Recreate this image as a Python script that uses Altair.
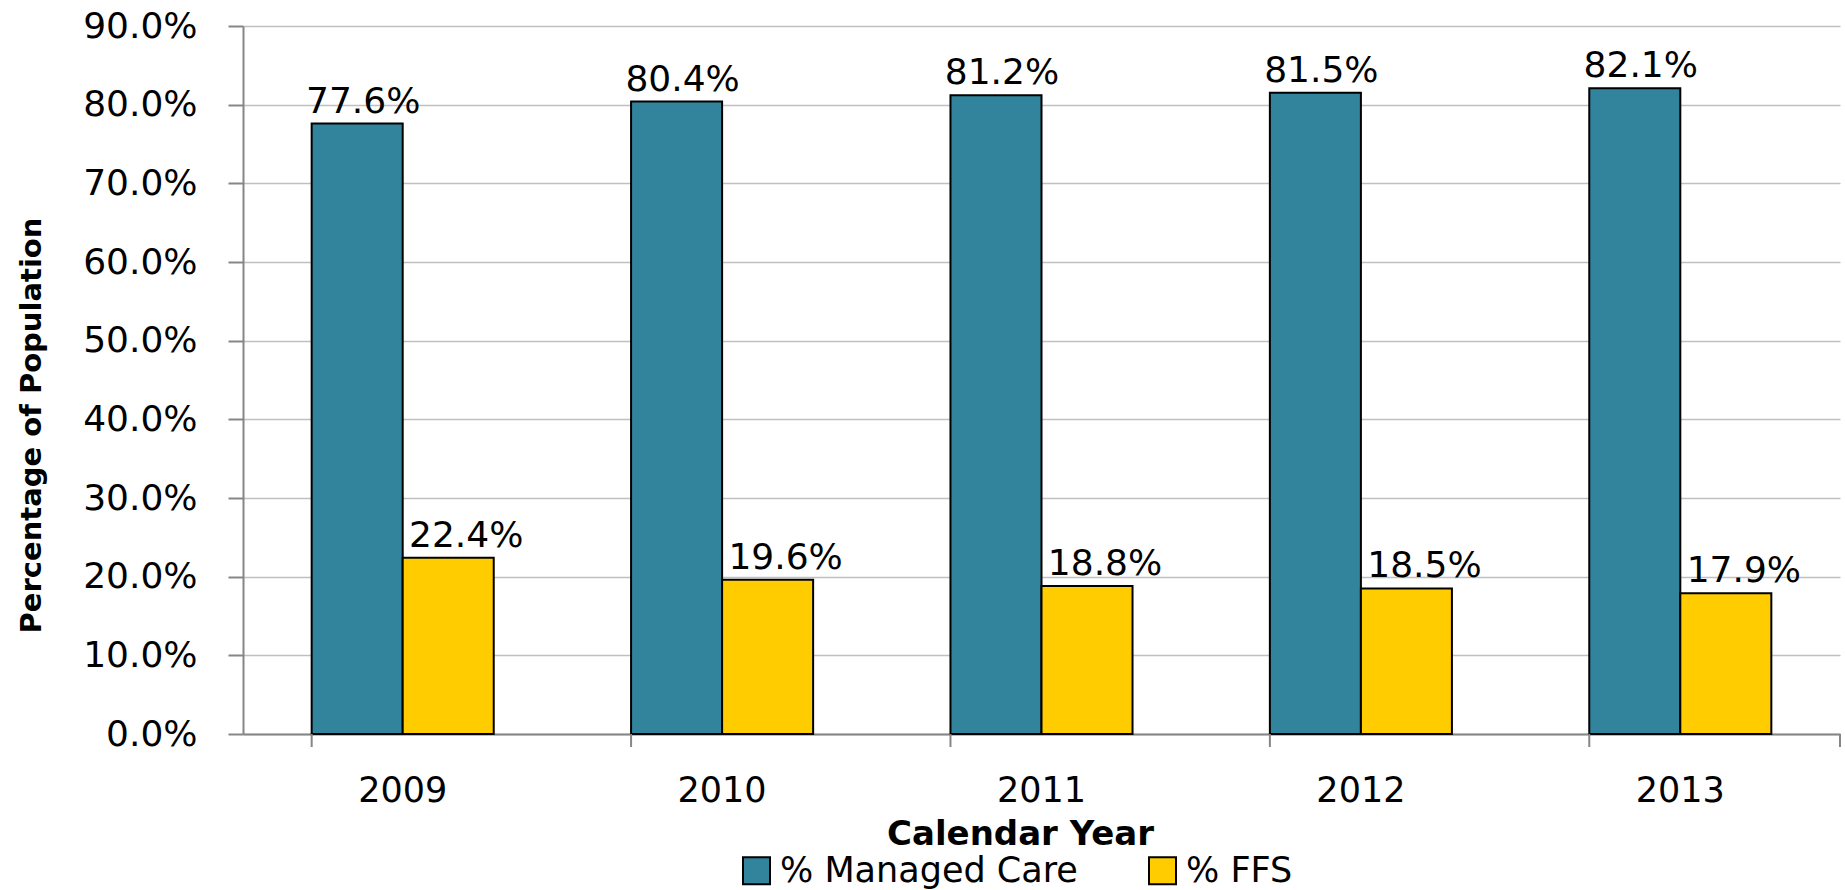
import altair as alt
import pandas as pd

years = ["2009", "2010", "2011", "2012", "2013"]
managed_care = [0.776, 0.804, 0.812, 0.815, 0.821]
ffs = [0.224, 0.196, 0.188, 0.185, 0.179]
series_names = ["% Managed Care", "% FFS"]
series_colors = ["#31849B", "#FFCC00"]
y_ticks = [0.0, 0.1, 0.2, 0.3, 0.4, 0.5, 0.6, 0.7, 0.8, 0.9]

rows = []
for i, yr in enumerate(years):
    rows.append({"year": yr, "series": series_names[0], "value": managed_care[i]})
    rows.append({"year": yr, "series": series_names[1], "value": ffs[i]})
df = pd.DataFrame(rows)

W, H = 1597, 708
FONT = "DejaVu Sans"

xscale = alt.Scale(domain=years, paddingInner=0.43, paddingOuter=0.215)
yscale = alt.Scale(domain=[0, 0.9], nice=False, zero=True)

x_enc = alt.X(
    "year:N", scale=xscale, sort=years,
    axis=alt.Axis(
        title="Calendar Year", labelAngle=0, ticks=False, tickSize=0,
        labelFont=FONT, labelFontSize=35, labelColor="black",
        labelBaseline="alphabetic", labelPadding=67,
        domainColor="#868686", domainWidth=2,
        titleFont=FONT, titleFontSize=34, titleFontWeight="bold", titleColor="black",
        titleX=777, titleY=110, titleBaseline="alphabetic", titleAlign="center",
        grid=False,
    ),
)
y_enc = alt.Y(
    "value:Q", scale=yscale,
    axis=alt.Axis(
        values=y_ticks, format=".1%", title="Percentage of Population",
        labelFont=FONT, labelFontSize=36, labelColor="black", labelPadding=31,
        tickSize=15, tickColor="#868686", tickWidth=2,
        domainColor="#868686", domainWidth=2,
        gridColor="#c0c0c0", gridWidth=1.5,
        titleFont=FONT, titleFontSize=29, titleFontWeight="bold", titleColor="black",
        titleAngle=270, titleX=-203, titleY=399, titleBaseline="alphabetic", titleAlign="center",
    ),
)
xoff = alt.XOffset("series:N", sort=series_names, scale=alt.Scale(domain=series_names, paddingInner=0, paddingOuter=0))

bars = alt.Chart(df).mark_bar(stroke="black", strokeWidth=2).encode(
    x=x_enc, y=y_enc, xOffset=xoff,
    color=alt.Color(
        "series:N", scale=alt.Scale(domain=series_names, range=series_colors), title=None,
        legend=alt.Legend(
            orient="none", legendX=496, legendY=827, direction="horizontal",
            symbolType="square", symbolSize=729, symbolStrokeColor="black", symbolStrokeWidth=2,
            labelFont=FONT, labelFontSize=35, labelColor="black", labelOffset=6,
            columnPadding=67, labelLimit=600, padding=0,
        ),
    ),
)

def labels(name, dx):
    return alt.Chart(df).transform_filter(alt.datum.series == name).mark_text(
        font=FONT, fontSize=36, color="black", baseline="alphabetic", align="center", dy=-11, dx=dx
    ).encode(
        x=alt.X("year:N", scale=xscale, sort=years),
        y=alt.Y("value:Q", scale=yscale),
        xOffset=xoff,
        text=alt.Text("value:Q", format=".1%"),
    )

tick_df = pd.DataFrame({"year": years})
xticks = alt.Chart(tick_df).mark_rule(color="#868686", strokeWidth=2).encode(
    x=alt.X("year:N", scale=xscale, sort=years, bandPosition=0),
    y=alt.value(H), y2=alt.value(H + 13),
)
last_tick = alt.Chart(tick_df.head(1)).mark_rule(color="#868686", strokeWidth=2).encode(
    x=alt.value(W), y=alt.value(H), y2=alt.value(H + 13),
)

chart = alt.layer(
    bars, labels(series_names[0], 6), labels(series_names[1], 18), xticks, last_tick
).properties(
    width=W, height=H,
    autosize=alt.AutoSizeParams(type="none"),
    padding={"left": 243, "top": 26, "right": 5, "bottom": 156},
    background="white",
).configure_view(stroke=None)

chart.save("out.html", embed_options={"renderer": "svg", "actions": False})
